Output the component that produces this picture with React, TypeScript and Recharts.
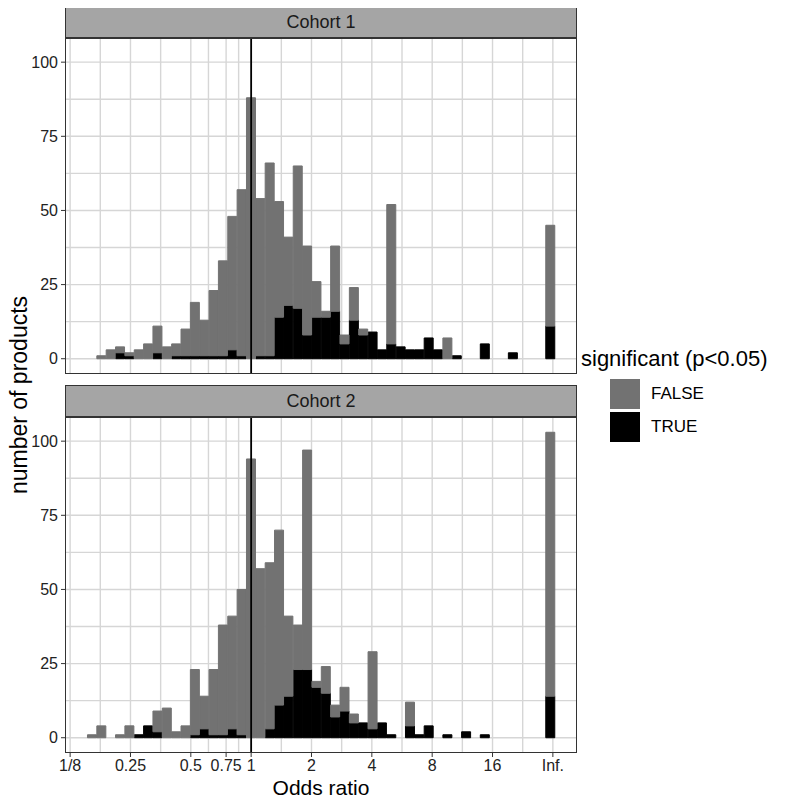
import React from "react";
import {
  Bar,
  BarChart,
  CartesianGrid,
  ReferenceLine,
  XAxis,
  YAxis,
} from "recharts";

// histogram bins on a log2(odds ratio) scale, bin -17 .. bin 32 (bin 32 = "Inf.")
const BIN_WIDTH = 0.155;
const FIRST_BIN = -17;

const cohort1False = [
  0, 1, 3, 2, 1, 3, 5, 9, 4, 4, 9, 18, 12, 22, 32, 45, 56, 88, 53, 65, 39, 23,
  48, 30, 12, 2, 22, 3, 11, 2, 0, 0, 47, 0, 0, 0, 0, 0, 7, 0, 0, 0, 0, 0, 0, 0,
  0, 0, 0, 34,
];
const cohort1True = [
  0, 0, 0, 2, 1, 0, 0, 2, 0, 1, 1, 1, 1, 1, 1, 3, 1, 0, 1, 1, 14, 18, 17, 8, 14,
  14, 16, 5, 13, 8, 9, 3, 5, 4, 3, 3, 7, 3, 0, 1, 0, 0, 5, 0, 0, 2, 0, 0, 0, 11,
];
const cohort2False = [
  1, 4, 0, 1, 4, 0, 0, 7, 10, 2, 4, 22, 11, 22, 37, 38, 49, 94, 57, 56, 59, 27,
  15, 74, 2, 9, 4, 8, 3, 0, 26, 0, 0, 0, 8, 0, 0, 0, 0, 0, 0, 0, 0, 0, 0, 0, 0,
  0, 0, 89,
];
const cohort2True = [
  0, 0, 0, 0, 0, 1, 4, 2, 0, 0, 0, 1, 3, 1, 1, 3, 1, 0, 0, 3, 11, 14, 23, 23,
  17, 15, 7, 9, 5, 5, 3, 5, 1, 0, 4, 1, 4, 0, 1, 0, 2, 0, 1, 0, 0, 0, 0, 0, 0,
  14,
];

const xTicks = [-3, -2, -1, Math.log2(0.75), 0, 1, 2, 3, 4, 5];
const xTickLabels = ["1/8", "0.25", "0.5", "0.75", "1", "2", "4", "8", "16", "Inf."];
const yTicks = [0, 25, 50, 75, 100];
const yGrid = [0, 12.5, 25, 37.5, 50, 62.5, 75, 87.5, 100];

// major breaks plus the ggplot-style minor breaks halfway between them
const xGrid = xTicks.concat(
  xTicks.slice(1).map((t, i) => (t + xTicks[i]) / 2)
);

const FALSE_COLOR = "#727272";
const TRUE_COLOR = "#000000";
const FONT = "'Liberation Sans', Arial, sans-serif";

const PLOT_LEFT = 65;
const PLOT_RIGHT = 577;
const PLOT_H = 336;

const makeData = (falseCounts: number[], trueCounts: number[]) =>
  falseCounts.map((f, i) => ({
    bin: (FIRST_BIN + i) * BIN_WIDTH,
    FALSE: f,
    TRUE: trueCounts[i],
  }));

const Panel = ({
  label,
  falseCounts,
  trueCounts,
  top,
  showXAxis,
}: {
  label: string;
  falseCounts: number[];
  trueCounts: number[];
  top: number;
  showXAxis: boolean;
}) => {
  const data = makeData(falseCounts, trueCounts);
  const axisH = showXAxis ? 26 : 0;
  return (
    <>
      <div
        style={{
          position: "absolute",
          left: PLOT_LEFT,
          top: top + 6,
          width: PLOT_RIGHT - PLOT_LEFT,
          height: 32,
          boxSizing: "border-box",
          background: "#a5a5a5",
          border: "1.3px solid #333",
          fontSize: 18,
          color: "#1a1a1a",
          display: "flex",
          alignItems: "center",
          justifyContent: "center",
        }}
      >
        {label}
      </div>
      <div style={{ position: "absolute", left: 0, top }}>
        <BarChart
          width={PLOT_RIGHT}
          height={38 + PLOT_H + axisH}
          data={data}
          margin={{ top: 38, right: 0, bottom: 0, left: 0 }}
          barCategoryGap={0}
          barGap={0}
        >
          <CartesianGrid
            verticalValues={xGrid}
            horizontalValues={yGrid}
            stroke="#d6d6d6"
            strokeWidth={1.4}
          />
          <XAxis
            dataKey="bin"
            type="number"
            domain={[-3.085, 5.4]}
            allowDataOverflow
            ticks={xTicks}
            interval={0}
            hide={!showXAxis}
            height={axisH}
            axisLine={false}
            tickSize={4}
            tickMargin={3}
            tickLine={{ stroke: "#333" }}
            tick={{ fill: "#222", fontSize: 16, fontFamily: FONT }}
            tickFormatter={(v: number) => {
              const i = xTicks.findIndex((t) => Math.abs(t - v) < 1e-6);
              return i >= 0 ? xTickLabels[i] : "";
            }}
          />
          <YAxis
            type="number"
            domain={[-5.15, 108.15]}
            allowDataOverflow
            ticks={yTicks}
            interval={0}
            width={PLOT_LEFT}
            axisLine={false}
            tickSize={4}
            tickMargin={3}
            tickLine={{ stroke: "#333" }}
            tick={{ fill: "#222", fontSize: 16, fontFamily: FONT }}
          />
          <Bar
            dataKey="TRUE"
            stackId="s"
            fill={TRUE_COLOR}
            stroke={TRUE_COLOR}
            strokeWidth={1}
            isAnimationActive={false}
          />
          <Bar
            dataKey="FALSE"
            stackId="s"
            fill={FALSE_COLOR}
            stroke={FALSE_COLOR}
            strokeWidth={1}
            isAnimationActive={false}
          />
          <ReferenceLine x={0} stroke="#000" strokeWidth={1.8} />
        </BarChart>
      </div>
      <div
        style={{
          position: "absolute",
          left: PLOT_LEFT,
          top: top + 38,
          width: PLOT_RIGHT - PLOT_LEFT,
          height: PLOT_H,
          boxSizing: "border-box",
          border: "1.3px solid #333",
          pointerEvents: "none",
        }}
      />
    </>
  );
};

const App = () => {
  return (
    <div
      style={{
        position: "relative",
        width: 790,
        height: 803,
        margin: -8,
        background: "#fff",
        fontFamily: FONT,
        overflow: "hidden",
      }}
    >
      <Panel
        label="Cohort 1"
        falseCounts={cohort1False}
        trueCounts={cohort1True}
        top={0}
        showXAxis={false}
      />
      <Panel
        label="Cohort 2"
        falseCounts={cohort2False}
        trueCounts={cohort2True}
        top={379}
        showXAxis={true}
      />

      {/* axis titles */}
      <div
        style={{
          position: "absolute",
          left: 19,
          top: 395,
          transform: "translate(-50%, -50%) rotate(-90deg)",
          whiteSpace: "nowrap",
          fontSize: 23,
          lineHeight: "24px",
          color: "#000",
        }}
      >
        number of products
      </div>
      <div
        style={{
          position: "absolute",
          left: (PLOT_LEFT + PLOT_RIGHT) / 2,
          top: 788,
          transform: "translate(-50%, -50%)",
          whiteSpace: "nowrap",
          fontSize: 21,
          lineHeight: "16px",
          color: "#000",
        }}
      >
        Odds ratio
      </div>

      {/* legend */}
      <div
        style={{
          position: "absolute",
          left: 581,
          top: 346,
          fontSize: 22,
          lineHeight: "26px",
          whiteSpace: "nowrap",
        }}
      >
        significant (p&lt;0.05)
      </div>
      {[
        { name: "FALSE", color: FALSE_COLOR, y: 379 },
        { name: "TRUE", color: TRUE_COLOR, y: 412 },
      ].map((k) => (
        <React.Fragment key={k.name}>
          <div
            style={{
              position: "absolute",
              left: 610,
              top: k.y,
              width: 30,
              height: 30,
              background: k.color,
            }}
          />
          <div
            style={{
              position: "absolute",
              left: 651,
              top: k.y + 15,
              transform: "translateY(-50%)",
              fontSize: 17,
            }}
          >
            {k.name}
          </div>
        </React.Fragment>
      ))}
    </div>
  );
};

export default App;
